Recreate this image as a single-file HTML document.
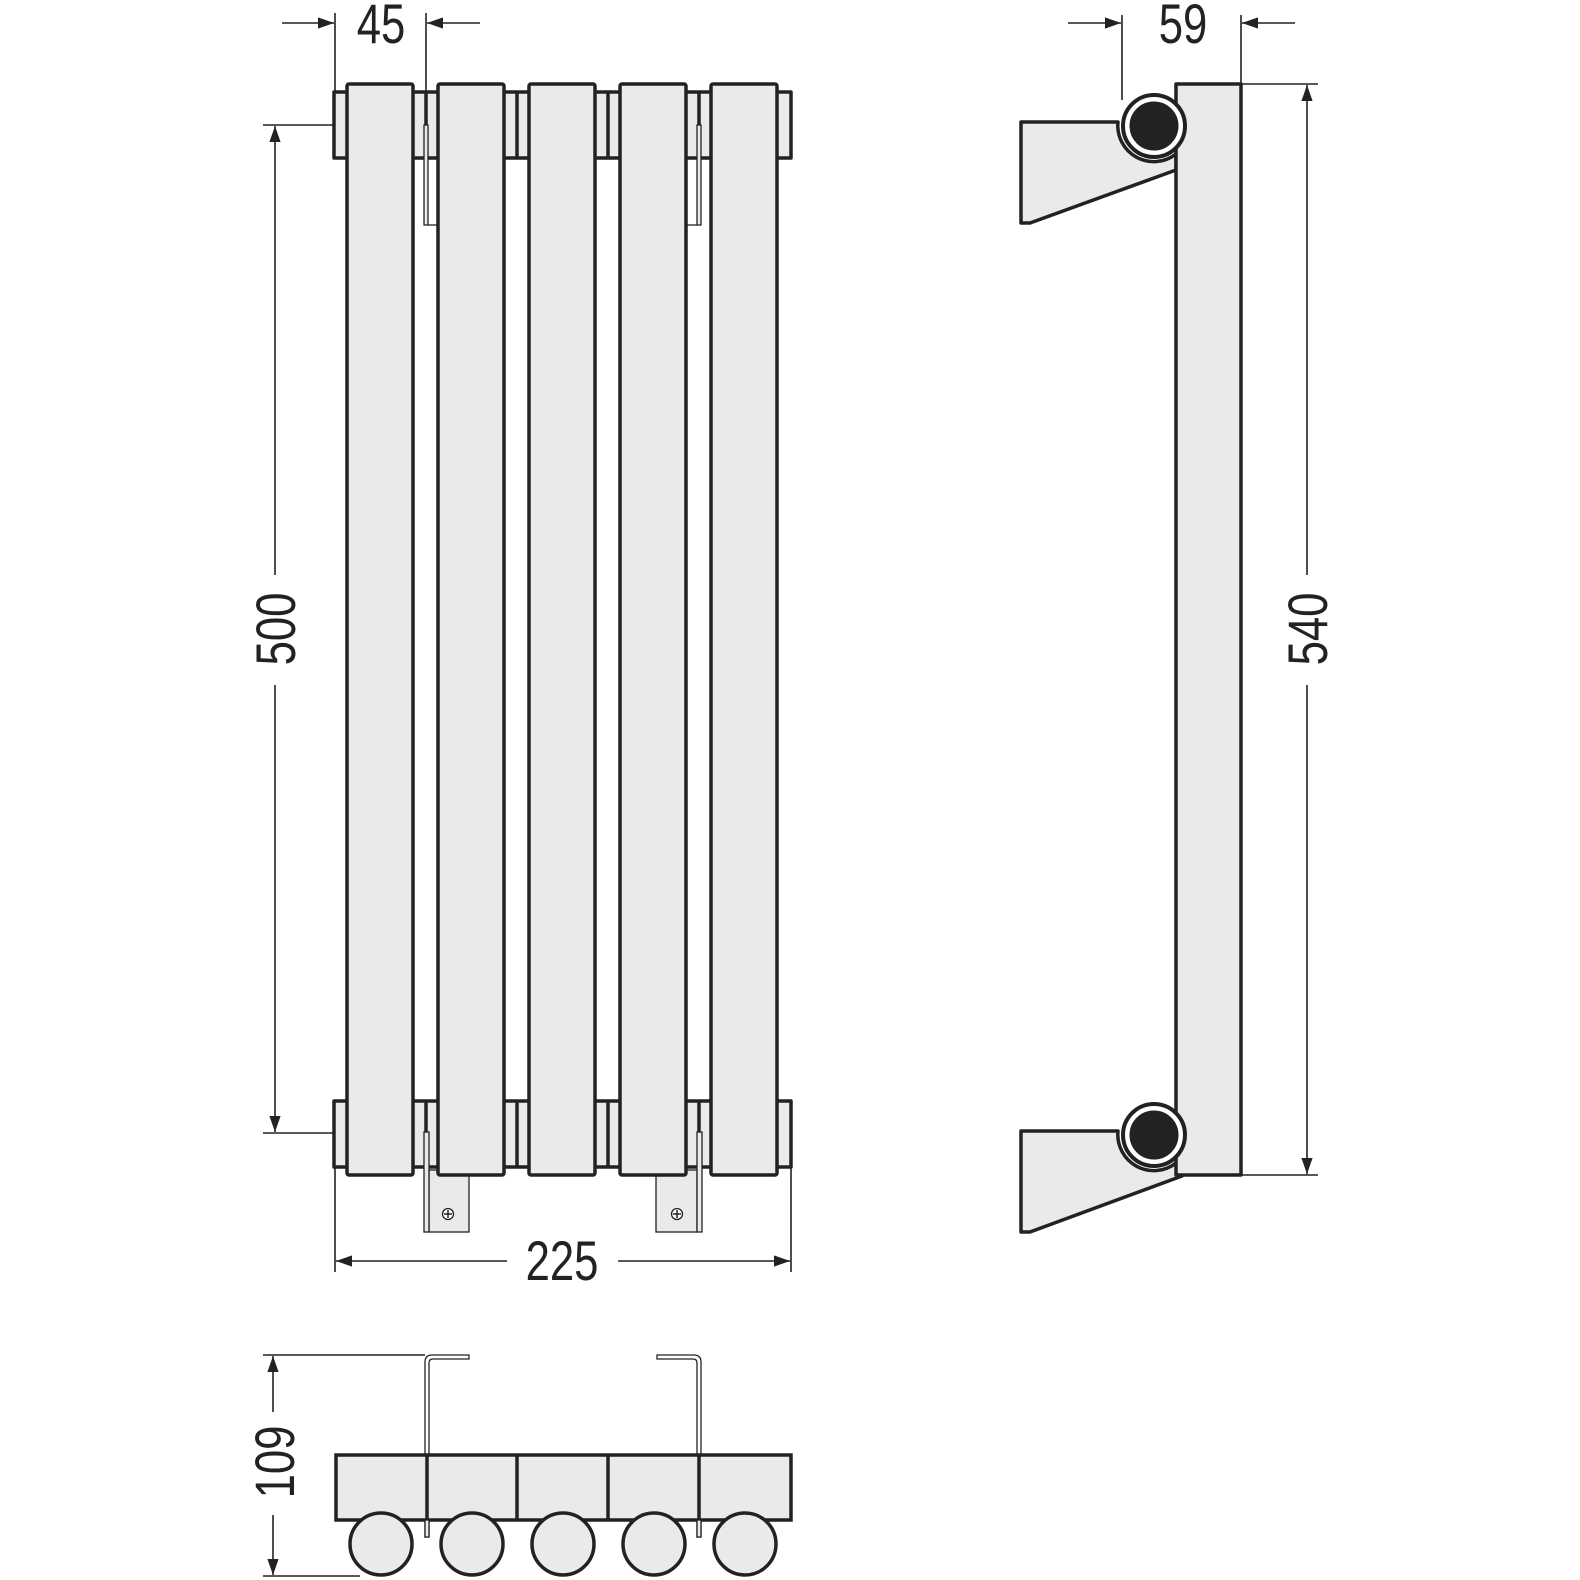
<!DOCTYPE html>
<html><head><meta charset="utf-8"><style>html,body{margin:0;padding:0;background:#fff}svg{display:block}</style></head><body>
<svg width="1580" height="1580" viewBox="0 0 1580 1580" xmlns="http://www.w3.org/2000/svg">
<defs>
<marker id="a" viewBox="0 0 10 10" refX="10" refY="5" markerWidth="16" markerHeight="16" markerUnits="userSpaceOnUse" orient="auto"><path d="M0,1.5 L10,5 L0,8.5z" fill="#222"/></marker>
</defs>
<rect width="1580" height="1580" fill="#fff"/>
<g fill="#e9ebea" stroke="#222" stroke-width="3.5" stroke-linejoin="round">
<rect x="334" y="92" width="457" height="66"/>
<rect x="334" y="1101" width="457" height="66"/>
</g>
<g stroke="#222" stroke-width="3.5">
<line x1="517" y1="92" x2="517" y2="158"/><line x1="608" y1="92" x2="608" y2="158"/>
<line x1="517" y1="1101" x2="517" y2="1167"/><line x1="608" y1="1101" x2="608" y2="1167"/>
<line x1="426" y1="92" x2="426" y2="125"/><line x1="699" y1="92" x2="699" y2="125"/>
<line x1="426" y1="1101" x2="426" y2="1132"/><line x1="699" y1="1101" x2="699" y2="1132"/>
</g>
<g fill="#e9ebea" stroke="#222" stroke-width="1.3">
<rect x="424" y="125" width="4" height="100"/><line x1="428" y1="225" x2="438" y2="225"/>
<rect x="697" y="125" width="4" height="100"/><line x1="687" y1="225" x2="697" y2="225"/>
<rect x="429" y="1170" width="40" height="62"/><rect x="424" y="1132" width="5" height="100"/>
<rect x="656" y="1170" width="41" height="62"/><rect x="697" y="1132" width="5" height="100"/>
<circle cx="448" cy="1214" r="5.5" fill="#fff"/><path d="M444,1214h8M448,1210v8" stroke-width="1.5"/>
<circle cx="677" cy="1214" r="5.5" fill="#fff"/><path d="M673,1214h8M677,1210v8" stroke-width="1.5"/>
</g>
<g fill="#e9ebea" stroke="#222" stroke-width="3.5" stroke-linejoin="round">
<rect x="347" y="84" width="66" height="1091" rx="2"/>
<rect x="438" y="84" width="66" height="1091" rx="2"/>
<rect x="529" y="84" width="66" height="1091" rx="2"/>
<rect x="620" y="84" width="66" height="1091" rx="2"/>
<rect x="711" y="84" width="66" height="1091" rx="2"/>
</g>
<g stroke="#222" stroke-width="1.6" fill="none">
<line x1="335" y1="13" x2="335" y2="92"/><line x1="426" y1="13" x2="426" y2="92"/>
<line x1="282" y1="23" x2="334" y2="23" marker-end="url(#a)"/><line x1="480" y1="23" x2="427" y2="23" marker-end="url(#a)"/>
<line x1="263" y1="125" x2="334" y2="125"/><line x1="263" y1="1133" x2="334" y2="1133"/>
<line x1="275" y1="575" x2="275" y2="126" marker-end="url(#a)"/><line x1="275" y1="685" x2="275" y2="1132" marker-end="url(#a)"/>
<line x1="335" y1="1167" x2="335" y2="1272"/><line x1="791" y1="1167" x2="791" y2="1272"/>
<line x1="507" y1="1261" x2="336" y2="1261" marker-end="url(#a)"/><line x1="618" y1="1261" x2="790" y2="1261" marker-end="url(#a)"/>
</g>
<g font-family="Liberation Sans, sans-serif" font-size="56" fill="#222" text-anchor="middle">
<text transform="translate(381,43) scale(0.78,1)">45</text>
<text transform="translate(562,1280) scale(0.78,1)">225</text>
<text transform="translate(295,629) rotate(-90) scale(0.78,1)">500</text>
<text transform="translate(1183,43) scale(0.78,1)">59</text>
<text transform="translate(1327,629) rotate(-90) scale(0.78,1)">540</text>
<text transform="translate(294,1462) rotate(-90) scale(0.78,1)">109</text>
</g>
<g fill="#e9ebea" stroke="#222" stroke-width="3.5" stroke-linejoin="round">
<path d="M1021,122 H1118 A36,36 0 0 0 1176,154 V170 L1030,223 H1021 Z"/>
<path d="M1021,1131 H1118 A36,36 0 0 0 1176,1163 L1182,1176 L1030,1232 H1021 Z"/>
<rect x="1176" y="84" width="65" height="1091"/>
</g>
<g stroke="#222">
<circle cx="1154" cy="126" r="31" fill="#fff" stroke-width="4"/><circle cx="1154" cy="126" r="24" fill="#222"/>
<circle cx="1154" cy="1135" r="31" fill="#fff" stroke-width="4"/><circle cx="1154" cy="1135" r="24" fill="#222"/>
</g>
<g stroke="#222" stroke-width="1.6" fill="none">
<line x1="1122" y1="15" x2="1122" y2="100"/><line x1="1241" y1="15" x2="1241" y2="84"/>
<line x1="1068" y1="23" x2="1121" y2="23" marker-end="url(#a)"/><line x1="1295" y1="23" x2="1242" y2="23" marker-end="url(#a)"/>
<line x1="1241" y1="84" x2="1318" y2="84"/><line x1="1241" y1="1175" x2="1318" y2="1175"/>
<line x1="1307" y1="575" x2="1307" y2="85" marker-end="url(#a)"/><line x1="1307" y1="685" x2="1307" y2="1174" marker-end="url(#a)"/>
</g>
<g stroke="#222" stroke-width="1.3" fill="#fff">
<path d="M425,1537 V1362 Q425,1355 432,1355 H469 V1359 H433 Q429,1359 429,1363 V1537 Z"/>
<path d="M701,1537 V1362 Q701,1355 694,1355 H657 V1359 H693 Q697,1359 697,1363 V1537 Z"/>
</g>
<g fill="#e9ebea" stroke="#222" stroke-width="3.5">
<rect x="336" y="1455" width="455" height="65"/>
<circle cx="381" cy="1544" r="31"/><circle cx="472" cy="1544" r="31"/><circle cx="563" cy="1544" r="31"/><circle cx="654" cy="1544" r="31"/><circle cx="745" cy="1544" r="31"/>
</g>
<g stroke="#222" stroke-width="3.5"><line x1="517" y1="1455" x2="517" y2="1520"/><line x1="608" y1="1455" x2="608" y2="1520"/><line x1="427" y1="1455" x2="427" y2="1520"/><line x1="699" y1="1455" x2="699" y2="1520"/></g>
<g stroke="#222" stroke-width="1.3" fill="#e9ebea"><rect x="425" y="1520" width="4" height="17"/><rect x="697" y="1520" width="4" height="17"/></g>
<g stroke="#222" stroke-width="1.6" fill="none">
<line x1="263" y1="1355" x2="425" y2="1355"/><line x1="263" y1="1576" x2="360" y2="1576"/>
<line x1="273" y1="1412" x2="273" y2="1356" marker-end="url(#a)"/><line x1="273" y1="1515" x2="273" y2="1575" marker-end="url(#a)"/>
</g>
</svg>
</body></html>
